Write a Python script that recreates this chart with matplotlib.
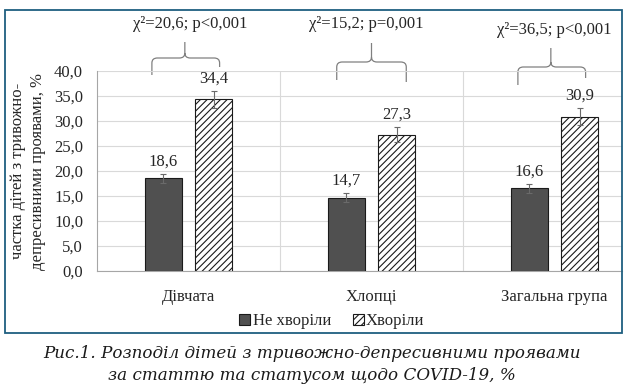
import matplotlib
matplotlib.use("Agg")
import matplotlib.pyplot as plt
import numpy as np
from matplotlib.path import Path
from matplotlib.patches import PathPatch, Rectangle, Patch

# ---- data ----
categories = ["Дівчата", "Хлопці", "Загальна група"]
not_ill = [18.6, 14.7, 16.6]
ill = [34.4, 27.3, 30.9]
err_not_ill = [0.9, 0.9, 0.9]
err_ill = [1.7, 1.5, 1.7]
chi_labels = ["χ²=20,6; p<0,001", "χ²=15,2; p=0,001", "χ²=36,5; p<0,001"]
series_names = ["Не хворіли", "Хворіли"]
yticks = [0, 5, 10, 15, 20, 25, 30, 35, 40]

W, H = 637, 391
fig = plt.figure(figsize=(W / 100, H / 100), dpi=100)
serif = ["Liberation Serif", "DejaVu Serif"]
plt.rcParams["hatch.linewidth"] = 0.8
FS = 12
TXT = "#262626"

def px_rect(x0, y0, x1, y1):
    return [x0 / W, 1 - y1 / H, (x1 - x0) / W, (y1 - y0) / H]

ax = fig.add_axes(px_rect(97, 71, 622, 271))
x = np.arange(len(categories))
bw = 0.2
off = 0.138
ax.bar(x - off, not_ill, bw, color="#505050", edgecolor="#1a1a1a", linewidth=0.8, zorder=3)
ax.bar(x + off, ill, bw, color="white", edgecolor="#1a1a1a", hatch="/////", linewidth=0.8, zorder=3)
ax.errorbar(x - off, not_ill, yerr=err_not_ill, fmt="none", ecolor="#6a6a6a", elinewidth=0.8, capsize=2, capthick=0.8, zorder=4)
ax.errorbar(x + off, ill, yerr=err_ill, fmt="none", ecolor="#6a6a6a", elinewidth=0.8, capsize=2, capthick=0.8, zorder=4)

for xs, vals, errs in [(x - off, not_ill, err_not_ill), (x + off, ill, err_ill)]:
    for xi, v, e in zip(xs, vals, errs):
        ax.annotate(f"{v:.1f}".replace(".", ","), (xi, v + e), xytext=(0, 3), textcoords="offset points",
                    ha="center", va="bottom", fontsize=FS, family=serif, color=TXT)

ax.set_xlim(-0.5, -0.5 + 525 / 183)
ax.set_ylim(0, 40)
ax.set_yticks(yticks)
ax.set_yticklabels([f"{t:.1f}".replace(".", ",") for t in yticks], family=serif, fontsize=FS, color=TXT)
ax.set_xticks(x)
ax.set_xticklabels(categories, family=serif, fontsize=FS, color=TXT)
ax.tick_params(axis="both", length=0)
ax.tick_params(axis="y", pad=10)
ax.tick_params(axis="x", pad=13)
ax.grid(axis="y", color="#d9d9d9", linewidth=0.8, zorder=0)
for b in [0.5, 1.5]:
    ax.axvline(b, color="#d9d9d9", linewidth=0.8, zorder=0)
for s in ["top", "right"]:
    ax.spines[s].set_visible(False)
ax.spines["left"].set_color("#a6a6a6")
ax.spines["bottom"].set_color("#a6a6a6")

ax.set_ylabel("частка дітей з тривожно-\nдепресивними проявами, %", family=serif, fontsize=FS,
              color=TXT, linespacing=1.3)
ax.yaxis.set_label_coords(-0.097, 0.5)

# braces (relative to category centers, data units)
brace_geom = [
    # xl, xm, xr, yl_end, yr_end, yh, ytop
    (-0.20, -0.02, 0.17, 39.2, 40.8, 42.6, 45.8),
    (-0.19, 0.0, 0.19, 38.2, 37.8, 41.8, 45.6),
    (-0.20, -0.02, 0.17, 37.2, 38.6, 40.8, 44.6),
]
text_pos = [(0.01, 49.3), (-0.03, 49.3), (0.0, 48.3)]
rx, ry = 0.03, 1.0
for i, (xl, xm, xr, yle, yre, yh, yt) in enumerate(brace_geom):
    c = x[i]
    xl, xm, xr = c + xl, c + xm, c + xr
    verts = [(xl, yle), (xl, yh - ry), (xl, yh), (xl + rx, yh), (xm - rx, yh), (xm, yh), (xm, yh + ry), (xm, yt),
             (xm, yh + ry), (xm, yh), (xm + rx, yh), (xr - rx, yh), (xr, yh), (xr, yh - ry), (xr, yre)]
    codes = [Path.MOVETO, Path.LINETO, Path.CURVE3, Path.CURVE3, Path.LINETO, Path.CURVE3, Path.CURVE3, Path.LINETO,
             Path.MOVETO, Path.CURVE3, Path.CURVE3, Path.LINETO, Path.CURVE3, Path.CURVE3, Path.LINETO]
    pp = PathPatch(Path(verts, codes), facecolor="none", edgecolor="#808080", linewidth=0.9, clip_on=False)
    ax.add_patch(pp)
    tx, ty = text_pos[i]
    ax.text(c + tx, ty, chi_labels[i], ha="center", va="center", fontsize=FS, family=serif,
            color=TXT, clip_on=False)

# legend
handles = [Patch(facecolor="#505050", edgecolor="#1a1a1a", linewidth=0.8),
           Patch(facecolor="white", edgecolor="#1a1a1a", hatch="/////", linewidth=0.8)]
fig.legend(handles, series_names, loc="center", bbox_to_anchor=(332 / W, 1 - 321 / H), ncol=2, frameon=False,
           prop={"family": serif, "size": FS}, handlelength=0.65, handleheight=0.65, handletextpad=0.15,
           columnspacing=1.3, labelcolor=TXT)

# outer frame
fig.patches.append(Rectangle((5 / W, 1 - 333 / H), 617 / W, 323 / H, transform=fig.transFigure,
                             facecolor="none", edgecolor="#1f5f80", linewidth=1.3))

# caption
fig.text(312 / W, 1 - 353 / H, "Рис.1. Розподіл дітей з тривожно-депресивними проявами", ha="center", va="center",
         fontsize=12.1, family="DejaVu Serif", style="italic", color="#1a1a1a")
fig.text(312 / W, 1 - 376 / H, "за статтю та статусом щодо COVID-19, %", ha="center", va="center",
         fontsize=12.1, family="DejaVu Serif", style="italic", color="#1a1a1a")

fig.savefig("out.png", dpi=100)
